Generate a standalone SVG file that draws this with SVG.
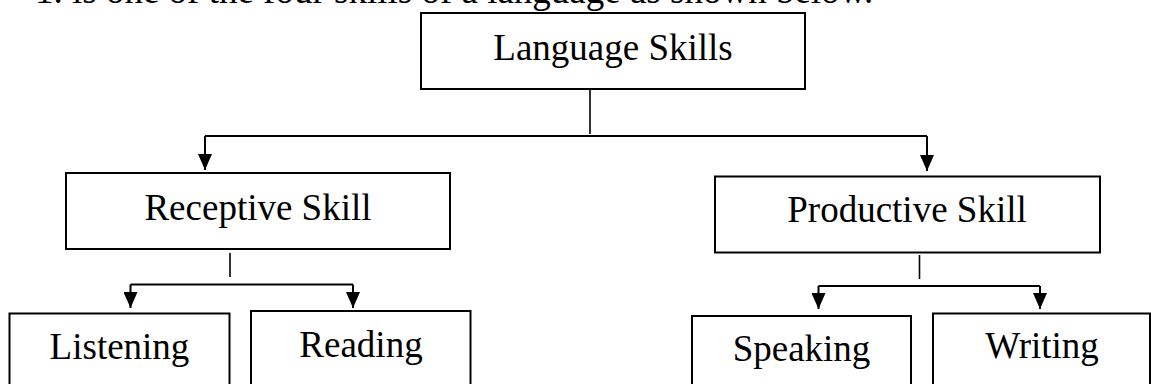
<svg xmlns="http://www.w3.org/2000/svg" width="1151" height="384" viewBox="0 0 1151 384">
<style>
.box{fill:#fff;stroke:#000;stroke-width:2}
.lbl{font-family:"Liberation Serif","Times New Roman",serif;font-size:37px;fill:#000;text-anchor:middle}
.cap{font-family:"Liberation Serif","Times New Roman",serif;font-size:37px;fill:#000}
.ln{fill:none;stroke:#000;stroke-width:2}
.st{fill:none;stroke:#000;stroke-width:1.6}
</style>
<defs>
<marker id="arr" markerWidth="16" markerHeight="14" refX="16" refY="7" orient="auto" markerUnits="userSpaceOnUse">
<path d="M0,0 L16,7 L0,14 z" fill="#000"/>
</marker>
</defs>
<rect width="1151" height="384" fill="#fff"/>
<text class="cap" x="35" y="3">1. is one of the four skills of a language as shown below.</text>
<g id="connectors">
<path class="st" d="M590,89 V134"/>
<path class="ln" d="M205,136 H927"/>
<path class="ln" d="M205,136 V170" marker-end="url(#arr)"/>
<path class="ln" d="M927,136 V171" marker-end="url(#arr)"/>
<path class="st" d="M230,253 V277"/>
<path class="ln" d="M130.5,284.5 H353"/>
<path class="ln" d="M130.5,284.5 V308" marker-end="url(#arr)"/>
<path class="ln" d="M353,284.5 V308" marker-end="url(#arr)"/>
<path class="st" d="M919.5,255 V279"/>
<path class="ln" d="M818.5,286 H1040"/>
<path class="ln" d="M818.5,286 V309" marker-end="url(#arr)"/>
<path class="ln" d="M1040,286 V309" marker-end="url(#arr)"/>
</g>
<g id="language-skills">
<rect class="box" x="421" y="13" width="384" height="76"/>
<text class="lbl" x="613" y="60">Language Skills</text>
</g>
<g id="receptive-skill">
<rect class="box" x="66" y="173" width="384" height="76"/>
<text class="lbl" x="258" y="220">Receptive Skill</text>
</g>
<g id="productive-skill">
<rect class="box" x="715" y="176.5" width="385" height="76"/>
<text class="lbl" x="907" y="222">Productive Skill</text>
</g>
<g id="listening">
<rect class="box" x="9.5" y="313.5" width="220" height="80"/>
<text class="lbl" x="119.5" y="359">Listening</text>
</g>
<g id="reading">
<rect class="box" x="251" y="311" width="219.5" height="80"/>
<text class="lbl" x="361" y="357">Reading</text>
</g>
<g id="speaking">
<rect class="box" x="692" y="316" width="219" height="80"/>
<text class="lbl" x="801.5" y="361">Speaking</text>
</g>
<g id="writing">
<rect class="box" x="933" y="313.5" width="217" height="80"/>
<text class="lbl" x="1042" y="358">Writing</text>
</g>
</svg>
